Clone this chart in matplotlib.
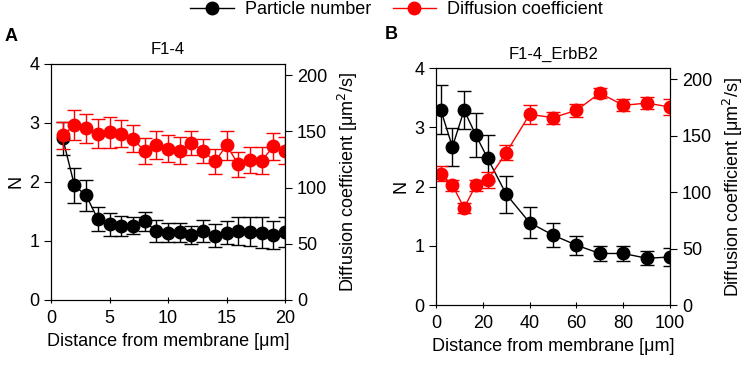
import matplotlib.pyplot as plt

plt.rcParams['font.family'] = ['Liberation Sans', 'DejaVu Sans']

# Panel A: F1-4
dist_a = list(range(1, 21))
n_a = [2.74, 1.94, 1.77, 1.37, 1.28, 1.26, 1.26, 1.33, 1.17, 1.14,
       1.15, 1.10, 1.17, 1.09, 1.14, 1.17, 1.16, 1.14, 1.10, 1.15]
n_a_err = [0.28, 0.29, 0.26, 0.20, 0.19, 0.17, 0.14, 0.16, 0.18, 0.16,
           0.16, 0.16, 0.19, 0.20, 0.20, 0.24, 0.25, 0.26, 0.23, 0.25]
d_a = [146.5, 155.4, 152.5, 148.0, 149.2, 148.0, 143.3, 132.3, 138.0, 134.7,
       132.6, 139.7, 132.6, 123.2, 137.4, 120.8, 124.3, 124.0, 136.5, 132.9]
d_a_err = [11.8, 13.3, 13.3, 12.7, 13.8, 12.0, 12.0, 11.8, 12.3, 12.4,
           12.0, 10.8, 11.0, 11.0, 13.0, 11.2, 11.8, 11.8, 12.3, 11.8]

# Panel B: F1-4_ErbB2
dist_b = [2, 7, 12, 17, 22, 30, 40, 50, 60, 70, 80, 90, 100]
n_b = [3.30, 2.67, 3.29, 2.87, 2.48, 1.87, 1.39, 1.18, 1.01, 0.87, 0.87, 0.79, 0.81]
n_b_err = [0.41, 0.32, 0.32, 0.37, 0.39, 0.31, 0.26, 0.20, 0.16, 0.12, 0.13, 0.12, 0.15]
d_b = [116.5, 106.2, 86.1, 106.2, 110.6, 135.1, 169.0, 166.1, 172.6, 187.9, 177.0, 179.0, 175.5]
d_b_err = [6.6, 4.7, 4.7, 5.0, 7.2, 6.6, 8.4, 5.2, 5.9, 4.4, 5.2, 5.2, 7.0]

fig = plt.figure(figsize=(7.48, 3.69), dpi=100)

style = dict(marker='o', markersize=9, lw=1, elinewidth=1, capsize=5, capthick=1)


def draw_panel(rect, x, n, n_err, d, d_err, xmax, xticks, title):
    ax = fig.add_axes(rect)
    ax2 = ax.twinx()  # twin axis is drawn on top, so red sits above black

    ax.errorbar(x, n, yerr=n_err, color='black', **style)
    ax2.errorbar(x, d, yerr=d_err, color='red', **style)

    ax.set_xlim(0, xmax)
    ax.set_ylim(0, 4)
    ax2.set_ylim(0, 210)
    ax.set_xticks(xticks)
    ax.set_yticks([0, 1, 2, 3, 4])
    ax2.set_yticks([0, 50, 100, 150, 200])
    ax.tick_params(axis='x', direction='inout', length=5, labelsize=13, pad=5)
    ax.tick_params(axis='y', direction='out', length=5, labelsize=13)
    ax2.tick_params(axis='y', direction='out', length=5, labelsize=13)
    ax.set_xlabel('Distance from membrane [\u03bcm]', fontsize=13, labelpad=4)
    ax.set_ylabel('N', fontsize=13, labelpad=3)
    ax2.set_ylabel('Diffusion coefficient [\u03bcm$^2$/s]', fontsize=13, labelpad=6)
    ax.set_title(title, fontsize=12, pad=7)
    return ax


draw_panel([0.0682, 0.187, 0.313, 0.640], dist_a, n_a, n_a_err, d_a, d_a_err,
           20, [0, 5, 10, 15, 20], 'F1-4')
draw_panel([0.5829, 0.1734, 0.313, 0.642], dist_b, n_b, n_b_err, d_b, d_b_err,
           100, [0, 20, 40, 60, 80, 100], 'F1-4_ErbB2')

fig.text(0.006, 0.902, 'A', fontsize=13, fontweight='bold', va='center')
fig.text(0.515, 0.907, 'B', fontsize=13, fontweight='bold', va='center')

h1 = plt.Line2D([], [], color='black', marker='o', markersize=9, lw=1)
h2 = plt.Line2D([], [], color='red', marker='o', markersize=9, lw=1)
fig.legend([h1, h2], ['Particle number', 'Diffusion coefficient'],
           loc='center', bbox_to_anchor=(0.53, 0.973), ncol=2, frameon=False,
           fontsize=13, handlelength=2.4, columnspacing=1.2, handletextpad=0.6,
           borderpad=0)

fig.savefig('out.png', dpi=100)
